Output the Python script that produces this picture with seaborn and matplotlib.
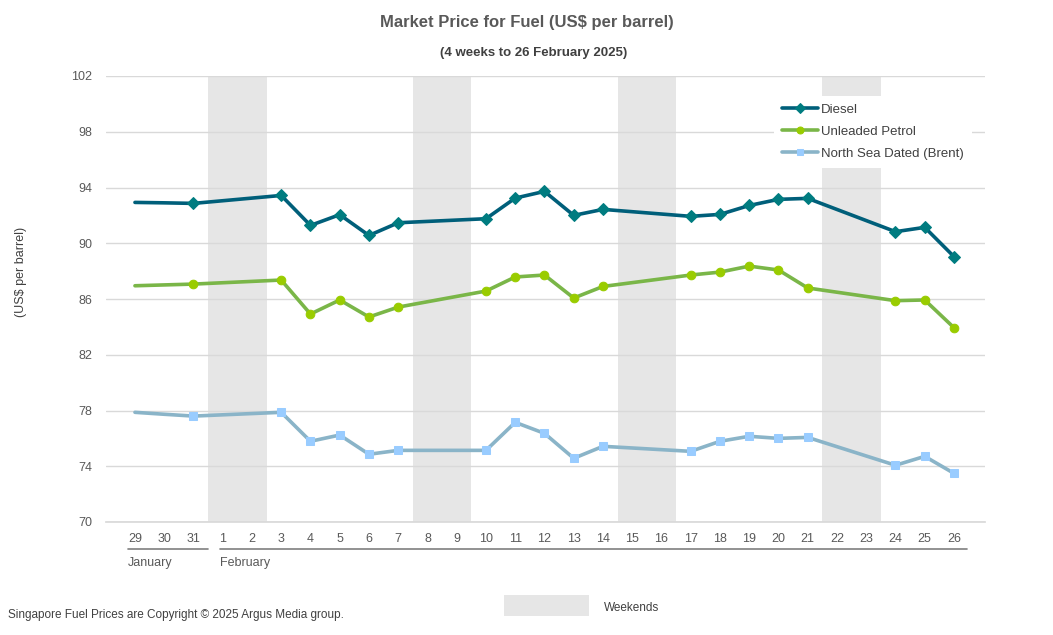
import matplotlib
matplotlib.use("Agg")
import matplotlib.pyplot as plt
import seaborn as sns
import pandas as pd
import numpy as np
from matplotlib.patches import Rectangle

sns.set_theme(style="white")
plt.rcParams['font.family'] = ['Liberation Sans', 'DejaVu Sans']

# ---- data ----
day_labels = ["29", "30", "31", "1", "2", "3", "4", "5", "6", "7", "8", "9", "10", "11",
              "12", "13", "14", "15", "16", "17", "18", "19", "20", "21", "22", "23",
              "24", "25", "26"]
weekend_days = ["1", "2", "8", "9", "15", "16", "22", "23"]
trading_days = ["29", "30", "31", "3", "4", "5", "6", "7", "10", "11", "12", "13", "14",
                "17", "18", "19", "20", "21", "24", "25", "26"]
no_marker_days = ["29", "30"]
diesel = [92.93, 92.90, 92.86, 93.43, 91.28, 92.05, 90.56, 91.47, 91.76, 93.24, 93.72,
          92.00, 92.43, 91.93, 92.07, 92.71, 93.15, 93.22, 90.83, 91.14, 89.04]
petrol = [86.95, 87.01, 87.07, 87.36, 84.92, 85.93, 84.71, 85.42, 86.57, 87.58, 87.72,
          86.07, 86.90, 87.72, 87.93, 88.36, 88.08, 86.79, 85.88, 85.93, 83.94]
brent = [77.87, 77.73, 77.60, 77.87, 75.79, 76.24, 74.86, 75.14, 75.14, 77.15, 76.36,
         74.57, 75.43, 75.07, 75.79, 76.15, 76.00, 76.07, 74.07, 74.71, 73.49]
series_names = ["Diesel", "Unleaded Petrol", "North Sea Dated (Brent)"]
month_names = ["January", "February"]
y_ticks = [70, 74, 78, 82, 86, 90, 94, 98, 102]

# ---- figure ----
fig = plt.figure(figsize=(10.53, 6.35), dpi=100)
ax = fig.add_axes([106/1053, 113/635, 879/1053, 446/635])

x_idx = [day_labels.index(d) for d in trading_days]
markevery = [i for i, d in enumerate(trading_days) if d not in no_marker_days]

# weekend shading
for d in weekend_days[::2]:
    i = day_labels.index(d)
    ax.axvspan(i - 0.5, i + 1.5, color="#E6E6E6", lw=0, zorder=0)

styles = [
    dict(color="#005F7A", marker="D", mfc="#007C80", mec="#007C80", ms=6.2),
    dict(color="#7AB648", marker="o", mfc="#99CC00", mec="#99CC00", ms=6.2),
    dict(color="#8AB4C8", marker="s", mfc="#99CCFF", mec="#99CCFF", ms=6.2),
]
for name, vals, st in zip(series_names, [diesel, petrol, brent], styles):
    df = pd.DataFrame({"x": x_idx, "y": vals})
    sns.lineplot(data=df, x="x", y="y", ax=ax, color=st["color"], lw=2.6,
                 marker=st["marker"], markerfacecolor=st["mfc"],
                 markeredgecolor=st["mec"], markersize=st["ms"],
                 markevery=markevery, label=name, zorder=3)

ax.set_xlim(-0.99, 29.06)
ax.set_ylim(70, 102)
ax.set_yticks(y_ticks)
ax.set_yticklabels([str(v) for v in y_ticks])
ax.set_xticks(range(len(day_labels)))
ax.set_xticklabels(day_labels)
ax.tick_params(axis="both", length=0, labelsize=9, colors="#595959")
ax.tick_params(axis="x", pad=8)
ax.tick_params(axis="y", pad=10)
ax.grid(axis="y", color="#D9D9D9", lw=1, zorder=1)
ax.set_axisbelow(True)
for s in ["top", "right", "left"]:
    ax.spines[s].set_visible(False)
ax.spines["bottom"].set_color("#D9D9D9")
ax.set_xlabel("")
ax.set_ylabel("")

# month underlines and labels
trans = ax.get_xaxis_transform()
month_spans = [(-0.24, 2.5), (2.9, 28.45)]
for name, (a, b) in zip(month_names, month_spans):
    ax.plot([a, b], [-0.0605, -0.0605], transform=trans, color="#7F7F7F", lw=1.2,
            clip_on=False)
    ax.text(a, -0.093, name, transform=trans, ha="left", va="center", fontsize=9,
            color="#595959")

leg = ax.legend(loc="upper left", bbox_to_anchor=(0.752, 0.971), frameon=True,
                facecolor="white", edgecolor="none", framealpha=1, fontsize=9.5,
                handlelength=2.8, labelspacing=0.75, borderpad=0.6, handletextpad=0.2)
for t in leg.get_texts():
    t.set_color("#404040")
for h in leg.get_lines():
    h.set_markersize(5)

# titles and notes
fig.text(0.5, 1 - 22/635, "Market Price for Fuel (US$ per barrel)", ha="center",
         va="center", fontsize=12, fontweight="bold", color="#595959")
fig.text(0.507, 1 - 53/635, "(4 weeks to 26 February 2025)", ha="center", va="center",
         fontsize=9.5, fontweight="bold", color="#404040")
fig.text(21/1053, 1 - 272/635, "(US$ per barrel)", rotation=90, ha="center",
         va="center", fontsize=9, color="#404040")
fig.text(8/1053, 1 - 615/635, "Singapore Fuel Prices are Copyright © 2025 Argus Media group.",
         ha="left", va="center", fontsize=8.5, color="#404040")
fig.patches.append(Rectangle((504/1053, 1 - 616/635), 85/1053, 21/635,
                             transform=fig.transFigure, color="#E6E6E6", lw=0))
fig.text(604/1053, 1 - 608/635, "Weekends", ha="left", va="center", fontsize=8.5,
         color="#404040")

fig.savefig("out.png", dpi=100)
